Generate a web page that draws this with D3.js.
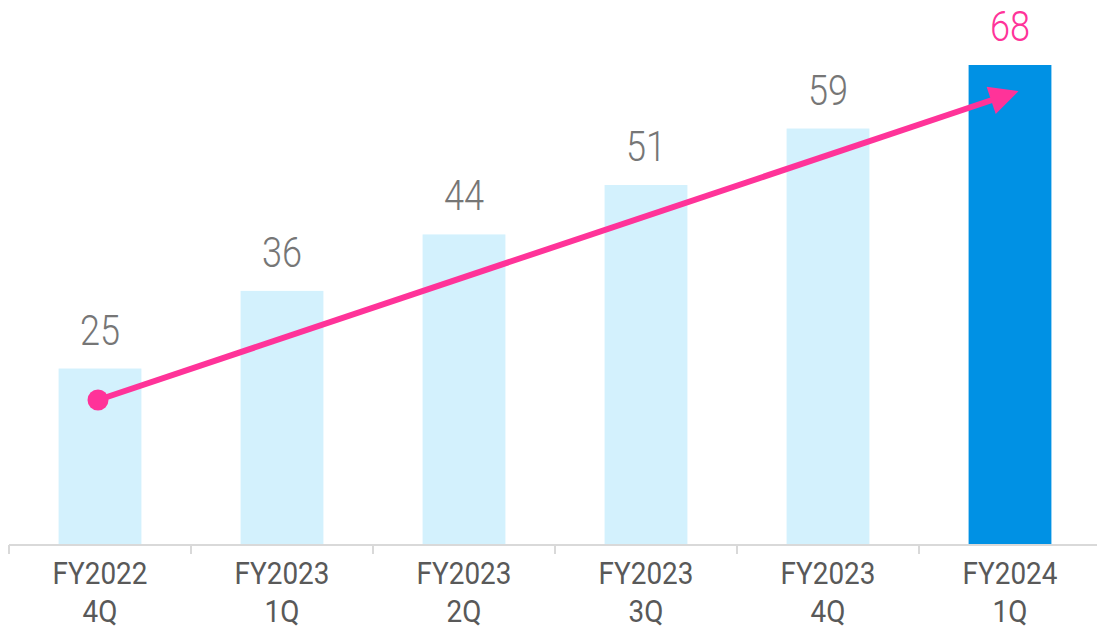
<!DOCTYPE html>
<html>
<head>
<meta charset="utf-8">
<script src="https://cdn.jsdelivr.net/npm/d3@7"></script>
<style>
  body { margin: 0; background: #fff; }
  text { font-family: Roboto, "DejaVu Sans", sans-serif; }
</style>
</head>
<body>
<script>
var years = ["FY2022", "FY2023", "FY2023", "FY2023", "FY2023", "FY2024"];
var quarters = ["4Q", "1Q", "2Q", "3Q", "4Q", "1Q"];
var values = [25, 36, 44, 51, 59, 68];

var width = 1097, height = 628;
var baseY = 545;

var svg = d3.select("body").append("svg")
    .attr("width", width)
    .attr("height", height);

var x = d3.scaleBand()
    .domain(d3.range(values.length))
    .range([9, 1101])
    .paddingInner(0.545)
    .paddingOuter(0.2725);

var y = d3.scaleLinear()
    .domain([0, 68])
    .range([baseY, 65]);

// bars
svg.selectAll(".bar")
    .data(values)
    .enter().append("rect")
    .attr("x", function(d, i) { return x(i); })
    .attr("y", function(d) { return y(d); })
    .attr("width", x.bandwidth())
    .attr("height", function(d) { return baseY - y(d); })
    .attr("fill", function(d, i) { return i == values.length - 1 ? "#0091E4" : "#D3F1FD"; });

// value labels
svg.selectAll(".val")
    .data(values)
    .enter().append("g")
    .attr("transform", function(d, i) { return "translate(" + (x(i) + x.bandwidth() / 2) + "," + (y(d) - 24) + ") scale(0.86,1)"; })
    .append("text")
    .attr("text-anchor", "middle")
    .attr("font-size", 42)
    .attr("font-weight", 300)
    .attr("fill", function(d, i) { return i == values.length - 1 ? "#FF3399" : "#767676"; })
    .text(function(d) { return d; });

// axis line and ticks between bands
var step = x.step();
var axis = svg.append("g").attr("stroke", "#D9D9D9").attr("stroke-width", 2);
axis.append("line")
    .attr("x1", 9).attr("x2", width)
    .attr("y1", baseY).attr("y2", baseY);
axis.selectAll(".tick")
    .data(d3.range(values.length))
    .enter().append("line")
    .attr("x1", function(i) { return x(i) + x.bandwidth() / 2 - step / 2; })
    .attr("x2", function(i) { return x(i) + x.bandwidth() / 2 - step / 2; })
    .attr("y1", baseY).attr("y2", baseY + 9);

// category labels
var cat = svg.selectAll(".cat")
    .data(values)
    .enter().append("g")
    .attr("transform", function(d, i) { return "translate(" + (x(i) + x.bandwidth() / 2) + ",0) scale(0.9,1)"; });
cat.append("text")
    .attr("text-anchor", "middle")
    .attr("y", 584)
    .attr("font-size", 31)
    .attr("fill", "#595959")
    .text(function(d, i) { return years[i]; });
cat.append("text")
    .attr("text-anchor", "middle")
    .attr("y", 622)
    .attr("font-size", 31)
    .attr("fill", "#595959")
    .text(function(d, i) { return quarters[i]; });

// trend arrow
svg.append("defs").append("marker")
    .attr("id", "head")
    .attr("viewBox", "0 0 10 10")
    .attr("refX", 8).attr("refY", 5)
    .attr("markerWidth", 5.5).attr("markerHeight", 4.8)
    .attr("orient", "auto")
    .attr("markerUnits", "strokeWidth")
    .append("path")
    .attr("d", "M0,0 L10,5 L0,10 Z")
    .attr("fill", "#FF3399");

var x0 = x(0) + x.bandwidth() / 2 - 2, y0 = 400;
var x1 = 1019, y1 = 91;
svg.append("line")
    .attr("x1", x0).attr("y1", y0)
    .attr("x2", x1 - 6).attr("y2", y1 + 2)
    .attr("stroke", "#FF3399")
    .attr("stroke-width", 6)
    .attr("marker-end", "url(#head)");
svg.append("circle")
    .attr("cx", x0).attr("cy", y0)
    .attr("r", 10.5)
    .attr("fill", "#FF3399");
</script>
</body>
</html>
